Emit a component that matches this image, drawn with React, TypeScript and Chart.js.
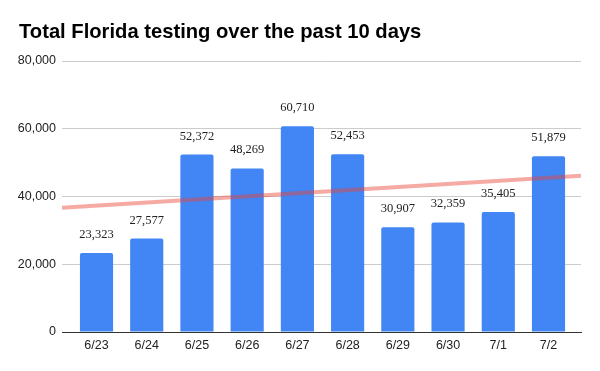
import React, { useEffect, useRef } from "react";
import { Chart, registerables } from "chart.js";

Chart.register(...registerables);

const categories = ["6/23", "6/24", "6/25", "6/26", "6/27", "6/28", "6/29", "6/30", "7/1", "7/2"];
const testValues = [23323, 27577, 52372, 48269, 60710, 52453, 30907, 32359, 35405, 51879];
const yTicks = [0, 20000, 40000, 60000, 80000];
const trendValues = [36700, 46150];
const titleText = "Total Florida testing over the past 10 days";

const X_MIN = -0.687;
const X_MAX = 9.647;

const fmt = (v: number) => v.toLocaleString("en-US");

export default function App() {
  const ref = useRef<HTMLCanvasElement | null>(null);

  useEffect(() => {
    document.body.style.margin = "0";
    const canvas = ref.current;
    if (!canvas) return;

    const overlay = {
      id: "overlay",
      afterDatasetsDraw(chart: any) {
        const ctx = chart.ctx;
        const meta = chart.getDatasetMeta(1);
        ctx.save();
        ctx.fillStyle = "#222";
        ctx.font = '12.5px "Liberation Serif", "Times New Roman", serif';
        ctx.textAlign = "center";
        ctx.textBaseline = "alphabetic";
        meta.data.forEach((el: any, i: number) => {
          ctx.fillText(fmt(testValues[i]), el.x, el.y - 15);
        });
        ctx.restore();
      },
      afterDraw(chart: any) {
        const ctx = chart.ctx;
        ctx.save();
        ctx.fillStyle = "#000";
        ctx.font = 'bold 20.2px "Liberation Sans", Arial, sans-serif';
        ctx.textAlign = "left";
        ctx.textBaseline = "alphabetic";
        ctx.fillText(titleText, 19, 38);
        ctx.restore();
      },
    };

    const chart = new Chart(canvas, {
      type: "bar",
      data: {
        datasets: [
          {
            type: "line",
            data: [
              { x: X_MIN, y: trendValues[0] },
              { x: X_MAX, y: trendValues[1] },
            ],
            borderColor: "rgba(234,67,53,0.45)",
            borderWidth: 4,
            pointRadius: 0,
            fill: false,
            order: 0,
          } as any,
          {
            type: "bar",
            data: testValues.map((v, i) => ({ x: i, y: v })),
            backgroundColor: "#4285F4",
            borderRadius: { topLeft: 2, topRight: 2, bottomLeft: 0, bottomRight: 0 },
            borderSkipped: "bottom",
            categoryPercentage: 1,
            barPercentage: 0.66,
            order: 1,
          } as any,
        ],
      },
      options: {
        responsive: false,
        animation: false,
        layout: { padding: { top: 61, right: 19, bottom: 0, left: 0 } },
        plugins: {
          legend: { display: false },
          title: { display: false },
          tooltip: { enabled: false },
        },
        scales: {
          x: {
            type: "linear",
            offset: false,
            min: X_MIN,
            max: X_MAX,
            grid: { display: false, drawTicks: false, offset: false },
            border: { display: true, color: "#333", width: 1 },
            afterBuildTicks: (scale: any) => {
              scale.ticks = categories.map((_, i) => ({ value: i }));
            },
            afterFit: (scale: any) => {
              scale.height = 39;
            },
            ticks: {
              autoSkip: false,
              maxRotation: 0,
              padding: 6,
              color: "#222",
              font: { family: '"Liberation Sans", Arial, sans-serif', size: 12.5 },
              callback: (v: any) => categories[Math.round(Number(v))] ?? "",
            },
          },
          y: {
            type: "linear",
            min: 0,
            max: 80000,
            afterBuildTicks: (scale: any) => {
              scale.ticks = yTicks.map((v) => ({ value: v }));
            },
            afterFit: (scale: any) => {
              scale.width = 62;
            },
            grid: {
              drawTicks: false,
              color: (c: any) => (c.tick && c.tick.value === 0 ? "#333" : "#cccccc"),
            },
            border: { display: false },
            ticks: {
              padding: 6,
              color: "#222",
              font: { family: '"Liberation Sans", Arial, sans-serif', size: 12.5 },
              callback: (v: any) => fmt(Number(v)),
            },
          },
        },
      } as any,
      plugins: [overlay],
    });

    return () => chart.destroy();
  }, []);

  return (
    <div style={{ width: 600, height: 371 }}>
      <canvas ref={ref} width={600} height={371} style={{ display: "block" }} />
    </div>
  );
}
